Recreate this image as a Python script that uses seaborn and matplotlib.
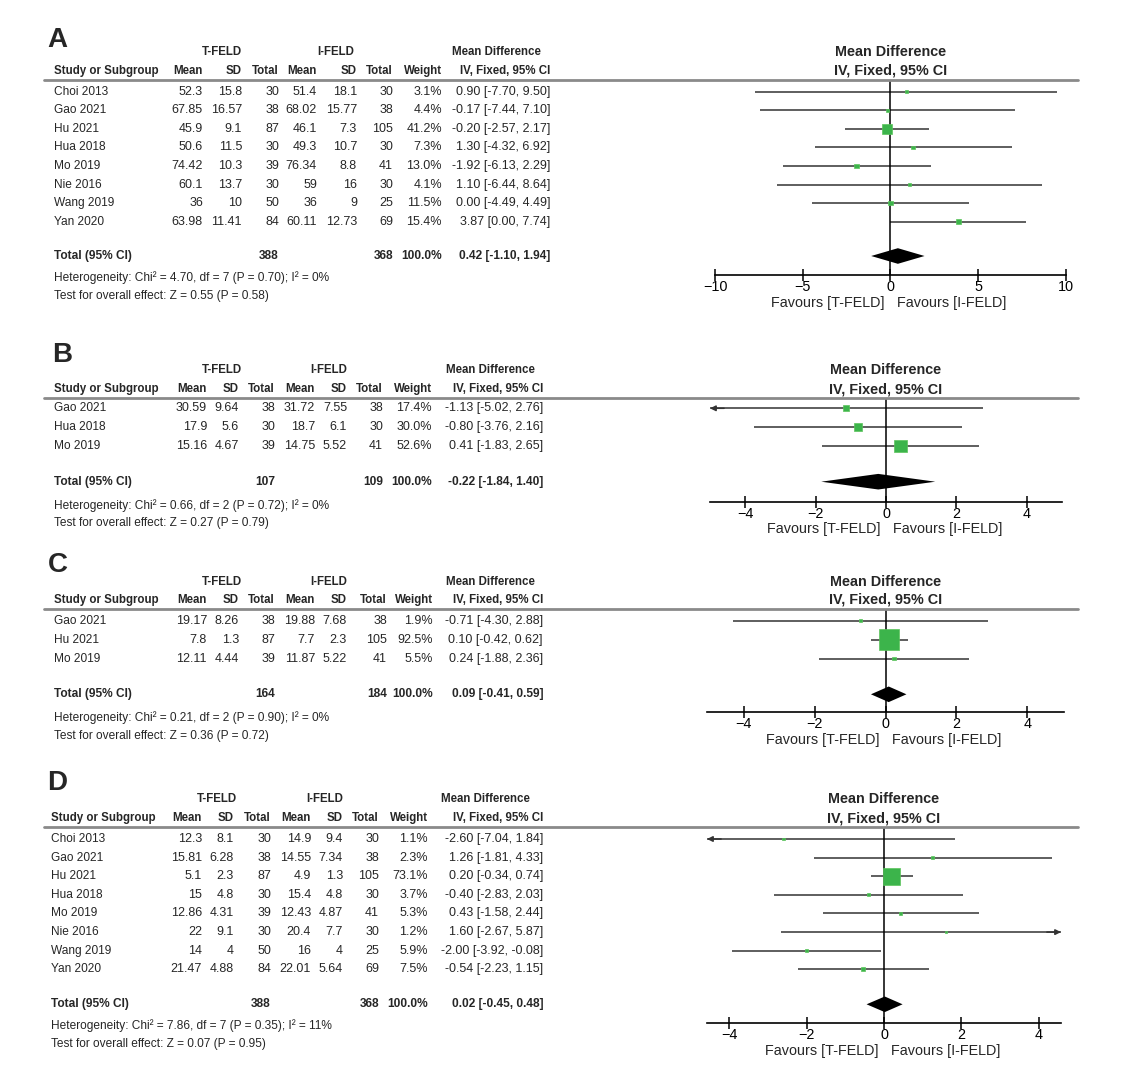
import matplotlib
matplotlib.use("Agg")
import matplotlib.pyplot as plt
import matplotlib.transforms as mtransforms
from matplotlib.lines import Line2D
import seaborn as sns
import pandas as pd
import numpy as np

# ---- data, panel A ----
a_studies = ["Choi 2013", "Gao 2021", "Hu 2021", "Hua 2018", "Mo 2019", "Nie 2016", "Wang 2019", "Yan 2020"]
a_t_mean = [52.3, 67.85, 45.9, 50.6, 74.42, 60.1, 36, 63.98]
a_t_sd = [15.8, 16.57, 9.1, 11.5, 10.3, 13.7, 10, 11.41]
a_t_n = [30, 38, 87, 30, 39, 30, 50, 84]
a_i_mean = [51.4, 68.02, 46.1, 49.3, 76.34, 59, 36, 60.11]
a_i_sd = [18.1, 15.77, 7.3, 10.7, 8.8, 16, 9, 12.73]
a_i_n = [30, 38, 105, 30, 41, 30, 25, 69]
a_weight = [3.1, 4.4, 41.2, 7.3, 13.0, 4.1, 11.5, 15.4]
a_md = [0.90, -0.17, -0.20, 1.30, -1.92, 1.10, 0.00, 3.87]
a_lo = [-7.70, -7.44, -2.57, -4.32, -6.13, -6.44, -4.49, 0.00]
a_hi = [9.50, 7.10, 2.17, 6.92, 2.29, 8.64, 4.49, 7.74]
a_total = [388, 368, 0.42, -1.10, 1.94]
a_het = "Heterogeneity: Chi\u00b2 = 4.70, df = 7 (P = 0.70); I\u00b2 = 0%"
a_test = "Test for overall effect: Z = 0.55 (P = 0.58)"

# ---- data, panel B ----
b_studies = ["Gao 2021", "Hua 2018", "Mo 2019"]
b_t_mean = [30.59, 17.9, 15.16]
b_t_sd = [9.64, 5.6, 4.67]
b_t_n = [38, 30, 39]
b_i_mean = [31.72, 18.7, 14.75]
b_i_sd = [7.55, 6.1, 5.52]
b_i_n = [38, 30, 41]
b_weight = [17.4, 30.0, 52.6]
b_md = [-1.13, -0.80, 0.41]
b_lo = [-5.02, -3.76, -1.83]
b_hi = [2.76, 2.16, 2.65]
b_total = [107, 109, -0.22, -1.84, 1.40]
b_het = "Heterogeneity: Chi\u00b2 = 0.66, df = 2 (P = 0.72); I\u00b2 = 0%"
b_test = "Test for overall effect: Z = 0.27 (P = 0.79)"

# ---- data, panel C ----
c_studies = ["Gao 2021", "Hu 2021", "Mo 2019"]
c_t_mean = [19.17, 7.8, 12.11]
c_t_sd = [8.26, 1.3, 4.44]
c_t_n = [38, 87, 39]
c_i_mean = [19.88, 7.7, 11.87]
c_i_sd = [7.68, 2.3, 5.22]
c_i_n = [38, 105, 41]
c_weight = [1.9, 92.5, 5.5]
c_md = [-0.71, 0.10, 0.24]
c_lo = [-4.30, -0.42, -1.88]
c_hi = [2.88, 0.62, 2.36]
c_total = [164, 184, 0.09, -0.41, 0.59]
c_het = "Heterogeneity: Chi\u00b2 = 0.21, df = 2 (P = 0.90); I\u00b2 = 0%"
c_test = "Test for overall effect: Z = 0.36 (P = 0.72)"

# ---- data, panel D ----
d_studies = ["Choi 2013", "Gao 2021", "Hu 2021", "Hua 2018", "Mo 2019", "Nie 2016", "Wang 2019", "Yan 2020"]
d_t_mean = [12.3, 15.81, 5.1, 15, 12.86, 22, 14, 21.47]
d_t_sd = [8.1, 6.28, 2.3, 4.8, 4.31, 9.1, 4, 4.88]
d_t_n = [30, 38, 87, 30, 39, 30, 50, 84]
d_i_mean = [14.9, 14.55, 4.9, 15.4, 12.43, 20.4, 16, 22.01]
d_i_sd = [9.4, 7.34, 1.3, 4.8, 4.87, 7.7, 4, 5.64]
d_i_n = [30, 38, 105, 30, 41, 30, 25, 69]
d_weight = [1.1, 2.3, 73.1, 3.7, 5.3, 1.2, 5.9, 7.5]
d_md = [-2.60, 1.26, 0.20, -0.40, 0.43, 1.60, -2.00, -0.54]
d_lo = [-7.04, -1.81, -0.34, -2.83, -1.58, -2.67, -3.92, -2.23]
d_hi = [1.84, 4.33, 0.74, 2.03, 2.44, 5.87, -0.08, 1.15]
d_total = [388, 368, 0.02, -0.45, 0.48]
d_het = "Heterogeneity: Chi\u00b2 = 7.86, df = 7 (P = 0.35); I\u00b2 = 11%"
d_test = "Test for overall effect: Z = 0.07 (P = 0.95)"

# ---- layout in pixels of the 1122x1079 picture ----
LA = dict(lx=47, letter=40, h1=52.3, h2=70.7, sep=80, row0=91.7, step=18.57, total=256,
          het=277.3, test=295.7, axis=275, favours=302.7, x0=715, x1=1066,
          xlim=(-10, 10), ticks=[-10, -5, 0, 5, 10],
          cols=[54, 203, 242, 279, 317, 357, 393, 442, 550], grp=[222, 335.5], mdh=496)
LB = dict(lx=52, letter=355, h1=370, h2=389.3, sep=397.5, row0=408.3, step=18.85, total=481.7,
          het=505.7, test=523.3, axis=501.7, favours=529.3, x0=710, x1=1062,
          xlim=(-5, 5), ticks=[-4, -2, 0, 2, 4],
          cols=[54, 207, 239, 275, 315, 347, 383, 432, 543], grp=[222, 328.7], mdh=490)
LC = dict(lx=48, letter=565, h1=581.7, h2=600, sep=609, row0=620.7, step=19, total=694.3,
          het=717.3, test=735.7, axis=711.7, favours=740, x0=707, x1=1064,
          xlim=(-5.03, 5.03), ticks=[-4, -2, 0, 2, 4],
          cols=[54, 207, 239, 275, 315, 347, 387, 433, 543], grp=[222, 329], mdh=490)
LD = dict(lx=47, letter=783, h1=799.3, h2=818.3, sep=827.3, row0=839, step=18.62, total=1004.3,
          het=1026, test=1044, axis=1023.3, favours=1050.7, x0=707, x1=1061,
          xlim=(-4.57, 4.57), ticks=[-4, -2, 0, 2, 4],
          cols=[51, 202, 234, 271, 311, 343, 379, 428, 543], grp=[216.7, 325], mdh=485.5)

W, H = 1122, 1079
GREEN = "#3cb44b"
GREEN_EDGE = "#5cc45c"
LINE = "#333333"

sns.set_style("white")
plt.rcParams["font.family"] = ["Liberation Sans", "DejaVu Sans"]
FS_TXT = 8.6    # study names, footnotes
FS_NUM = 9.0    # numbers in the table
FS_BOLD = 8.3   # table headers
FS_PLOT = 10.4  # axis ticks, favours text
FS_PHEAD = 10.4 # headers above the plot

fig = plt.figure(figsize=(W / 100, H / 100), dpi=100)


def fx(x):
    return x / W


def fy(y):
    return 1 - y / H


def num(v):
    return f"{v:g}"


def draw_panel(letter, L, studies, t_mean, t_sd, t_n, i_mean, i_sd, i_n,
               weight, md, lo, hi, total, het, test):
    n = len(studies)
    top = (L["sep"] - L["row0"]) / L["step"]
    bot = (L["axis"] - L["row0"]) / L["step"]
    ax = fig.add_axes([fx(L["x0"]), fy(L["axis"]),
                       (L["x1"] - L["x0"]) / W, (L["axis"] - L["sep"]) / H])
    xmin, xmax = L["xlim"]
    rows = np.arange(n)

    # confidence intervals, with an arrow where they leave the scale
    for r, l, h in zip(rows, lo, hi):
        ax.plot([max(l, xmin), min(h, xmax)], [r, r], color=LINE, lw=1.1,
                solid_capstyle="butt", zorder=1)
        if l < xmin:
            ax.annotate("", xy=(xmin, r), xytext=(xmin + 0.04 * (xmax - xmin), r),
                        arrowprops=dict(arrowstyle="-|>", color=LINE, lw=1.1,
                                        mutation_scale=8, shrinkA=0, shrinkB=0),
                        annotation_clip=False)
        if h > xmax:
            ax.annotate("", xy=(xmax, r), xytext=(xmax - 0.04 * (xmax - xmin), r),
                        arrowprops=dict(arrowstyle="-|>", color=LINE, lw=1.1,
                                        mutation_scale=8, shrinkA=0, shrinkB=0),
                        annotation_clip=False)

    ax.axvline(0, color="black", lw=1.1, zorder=2)

    # weight squares, side grows with the weight
    side_pt = (2.2 + 0.2 * np.array(weight)) * 0.72
    df = pd.DataFrame({"md": md, "row": rows, "area": side_pt ** 2})
    amin, amax = df["area"].min(), df["area"].max()
    sns.scatterplot(data=df, x="md", y="row", size="area", sizes=(amin, amax),
                    size_norm=(amin, amax), marker="s", color=GREEN,
                    edgecolor=GREEN_EDGE, linewidth=0.5, legend=False, ax=ax, zorder=3)

    # pooled diamond
    ty = (L["total"] - L["row0"]) / L["step"]
    hh = 7.8 / L["step"]
    t_md, t_lo, t_hi = total[2], total[3], total[4]
    ax.fill([t_lo, t_md, t_hi, t_md], [ty, ty - hh, ty, ty + hh], color="black", lw=0, zorder=3)

    ax.set_xlim(xmin, xmax)
    ax.set_ylim(bot, top)
    ax.set_xlabel("")
    ax.set_ylabel("")
    ax.set_yticks([])
    ax.set_xticks(L["ticks"])
    for s in ["top", "left", "right"]:
        ax.spines[s].set_visible(False)
    ax.spines["bottom"].set_color("black")
    ax.spines["bottom"].set_linewidth(1.2)
    ax.tick_params(axis="x", direction="inout", length=9, width=1.1, pad=-1,
                   labelsize=FS_PLOT, colors="black", bottom=True)
    ax.set_facecolor("none")

    fav_tr = mtransforms.blended_transform_factory(ax.transData, fig.transFigure)
    ax.annotate("Favours [T-FELD]", xy=(0, fy(L["favours"])), xycoords=fav_tr,
                xytext=(-4, 0), textcoords="offset points", ha="right", va="center",
                fontsize=FS_PLOT)
    ax.annotate("Favours [I-FELD]", xy=(0, fy(L["favours"])), xycoords=fav_tr,
                xytext=(5, 0), textcoords="offset points", ha="left", va="center",
                fontsize=FS_PLOT)

    # table
    cols = L["cols"]
    tr = mtransforms.blended_transform_factory(fig.transFigure, ax.transData)
    for r in rows:
        ax.text(fx(cols[0]), r, studies[r], transform=tr, ha="left", va="center", fontsize=FS_TXT)
        vals = [num(t_mean[r]), num(t_sd[r]), str(t_n[r]), num(i_mean[r]), num(i_sd[r]),
                str(i_n[r]), f"{weight[r]:.1f}%", f"{md[r]:.2f} [{lo[r]:.2f}, {hi[r]:.2f}]"]
        for x, s in zip(cols[1:], vals):
            ax.text(fx(x), r, s, transform=tr, ha="right", va="center", fontsize=FS_NUM)

    ax.text(fx(cols[0]), ty, "Total (95% CI)", transform=tr, ha="left", va="center",
            fontsize=FS_BOLD + 0.3, fontweight="bold")
    for x, s in zip([cols[3], cols[6], cols[7], cols[8]],
                    [str(total[0]), str(total[1]), "100.0%",
                     f"{t_md:.2f} [{t_lo:.2f}, {t_hi:.2f}]"]):
        ax.text(fx(x), ty, s, transform=tr, ha="right", va="center", fontsize=FS_BOLD + 0.3,
                fontweight="bold")

    fig.text(fx(cols[0]), fy(L["het"]), het, ha="left", va="center", fontsize=FS_TXT)
    fig.text(fx(cols[0]), fy(L["test"]), test, ha="left", va="center", fontsize=FS_TXT)

    # headers
    bold = dict(fontsize=FS_BOLD, fontweight="bold", va="center")
    fig.text(fx(L["grp"][0]), fy(L["h1"]), "T-FELD", ha="center", **bold)
    fig.text(fx(L["grp"][1]), fy(L["h1"]), "I-FELD", ha="center", **bold)
    fig.text(fx(L["mdh"]), fy(L["h1"]), "Mean Difference", ha="center", **bold)
    fig.text(fx(cols[0]), fy(L["h2"]), "Study or Subgroup", ha="left", **bold)
    for x, s in zip(cols[1:], ["Mean", "SD", "Total", "Mean", "SD", "Total", "Weight",
                               "IV, Fixed, 95% CI"]):
        fig.text(fx(x), fy(L["h2"]), s, ha="right", **bold)
    mid = fx((L["x0"] + L["x1"]) / 2)
    fig.text(mid, fy(L["h1"]), "Mean Difference", ha="center", va="center",
             fontsize=FS_PHEAD, fontweight="bold")
    fig.text(mid, fy(L["h2"]), "IV, Fixed, 95% CI", ha="center", va="center",
             fontsize=FS_PHEAD, fontweight="bold")

    fig.add_artist(Line2D([fx(44), fx(1078)], [fy(L["sep"])] * 2, color="#8a8a8a", lw=2))
    fig.text(fx(L["lx"]), fy(L["letter"]), letter, ha="left", va="center",
             fontsize=20, fontweight="bold")


draw_panel("A", LA, a_studies, a_t_mean, a_t_sd, a_t_n, a_i_mean, a_i_sd, a_i_n,
           a_weight, a_md, a_lo, a_hi, a_total, a_het, a_test)
draw_panel("B", LB, b_studies, b_t_mean, b_t_sd, b_t_n, b_i_mean, b_i_sd, b_i_n,
           b_weight, b_md, b_lo, b_hi, b_total, b_het, b_test)
draw_panel("C", LC, c_studies, c_t_mean, c_t_sd, c_t_n, c_i_mean, c_i_sd, c_i_n,
           c_weight, c_md, c_lo, c_hi, c_total, c_het, c_test)
draw_panel("D", LD, d_studies, d_t_mean, d_t_sd, d_t_n, d_i_mean, d_i_sd, d_i_n,
           d_weight, d_md, d_lo, d_hi, d_total, d_het, d_test)

fig.savefig("out.png", dpi=100, facecolor="white")
